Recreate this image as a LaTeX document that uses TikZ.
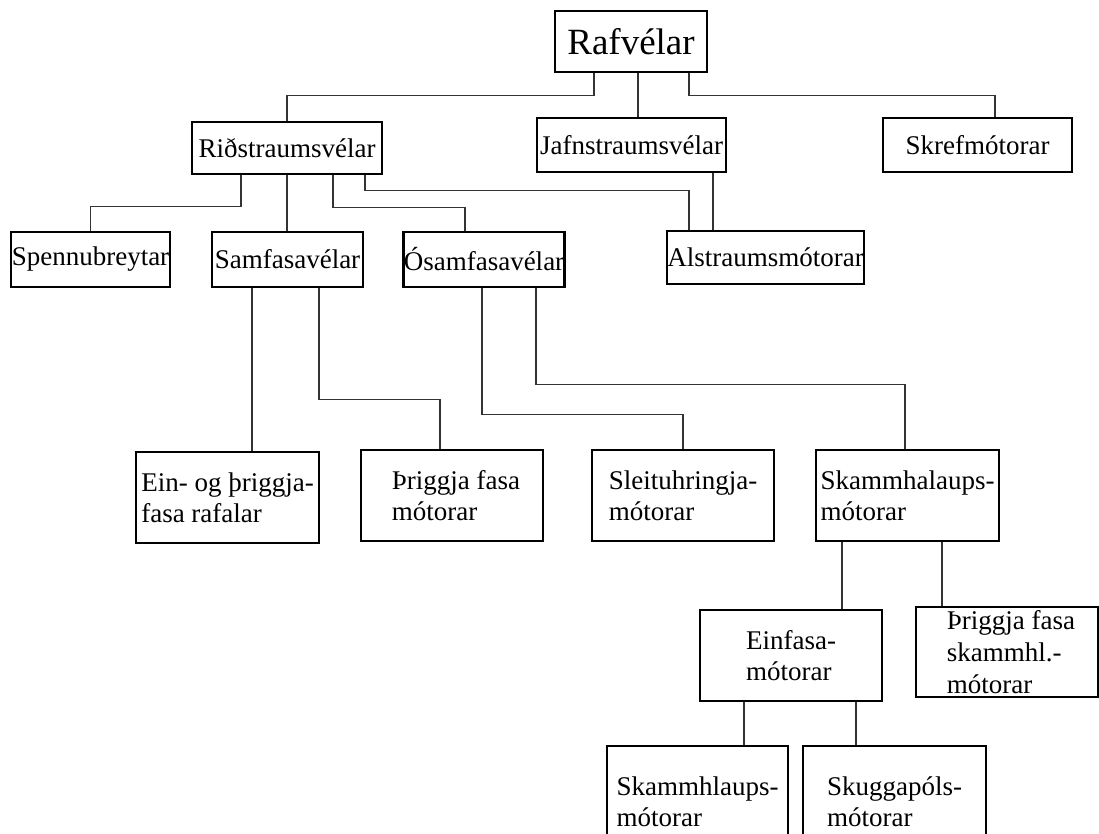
\documentclass[tikz,border=0pt]{standalone}
\usepackage{fontspec}
\setmainfont{Liberation Serif}
\begin{document}
\begin{tikzpicture}[x=1pt,y=-1pt,
  box/.style={draw=black, line width=2.8pt, rectangle, inner xsep=0pt, inner ysep=0pt,
    align=left, font=\fontsize{27}{31}\selectfont},
  link/.style={draw=black!80, line width=1.2pt}]
\useasboundingbox (0,0) rectangle (1099,833);
\fill[white] (0,0) rectangle (1099,833);
\clip (0,0) rectangle (1099,833);
% level 0
\node[box, minimum width=152pt, minimum height=61pt, font=\fontsize{37}{40}\selectfont] (raf) at (631,41.5) {Rafvélar};
% level 1
\node[box, minimum width=190pt, minimum height=52pt] (rid) at (287,148) {Riðstraumsvélar};
\node[box, minimum width=189pt, minimum height=54pt] (jafn) at (631.5,145) {Jafnstraumsvélar};
\node[box, minimum width=189pt, minimum height=54pt] (skref) at (977.5,145) {Skrefmótorar};
% level 2
\node[box, minimum width=159pt, minimum height=55pt] (spen) at (90.5,259.5) {Spennubreytar};
\node[box, minimum width=151pt, minimum height=55pt] (samf) at (287.5,259.5) {Samfasavélar};
\node[box, minimum width=160pt, minimum height=55pt] (osam) at (484,259.5) {Ósamfasavélar};
\node[box, minimum width=197pt, minimum height=53pt] (alst) at (765.5,257.5) {Alstraumsmótorar};
% level 3
\node[box, minimum width=183pt, minimum height=91pt] (ein) at (227.5,497.5) {Ein- og þriggja-\\fasa rafalar};
\node[box, minimum width=182pt, minimum height=91pt] (thr1) at (452,495.5) {\hspace*{8pt}Þriggja fasa\\\hspace*{8pt}mótorar};
\node[box, minimum width=182pt, minimum height=91pt] (sleit) at (683,495.5) {Sleituhringja-\\mótorar};
\node[box, minimum width=183pt, minimum height=91pt] (skam) at (907.5,495.5) {Skammhalaups-\\mótorar};
% level 4
\node[box, minimum width=182pt, minimum height=91pt] (einf) at (791,655.5) {Einfasa-\\mótorar};
\node[box, minimum width=182pt, minimum height=90pt, font=\fontsize{27}{32}\selectfont] (thr2) at (1007,652) {\hspace*{8pt}Þriggja fasa\\\hspace*{8pt}skammhl.-\\\hspace*{8pt}mótorar};
% level 5
\node[box, minimum width=181pt, minimum height=112pt] (skhl) at (697.5,802) {Skammhlaups-\\mótorar};
\node[box, minimum width=183pt, minimum height=112pt] (skug) at (894.5,802) {Skuggapóls-\\mótorar};
% connectors
\draw[link] ([xshift=-37pt]raf.south) -- ++(0,22) -| (rid.north);
\draw[link] ([xshift=7pt]raf.south) -- ([xshift=7pt]raf.south |- jafn.north);
\draw[link] ([xshift=58pt]raf.south) -- ++(0,22) -| ([xshift=17.5pt]skref.north);
\draw[link] ([xshift=-46pt]rid.south) -- ++(0,31) -| (spen.north);
\draw[link] (rid.south) -- (rid.south |- samf.north);
\draw[link] ([xshift=46pt]rid.south) -- ++(0,32) -| ([xshift=-19pt]osam.north);
\draw[link] ([xshift=78pt]rid.south) -- ++(0,15) -| ([xshift=-76.5pt]alst.north);
\draw[link] ([xshift=81.5pt]jafn.south) -- ([xshift=81.5pt]jafn.south |- alst.north);
\draw[link] ([xshift=-35.5pt]samf.south) -- ([xshift=-35.5pt]samf.south |- ein.north);
\draw[link] ([xshift=31.5pt]samf.south) -- ++(0,111) -| ([xshift=-12pt]thr1.north);
\draw[link] ([xshift=-2pt]osam.south) -- ++(0,126) -| (sleit.north);
\draw[link] ([xshift=52pt]osam.south) -- ++(0,96) -| ([xshift=-2.5pt]skam.north);
\draw[link] ([xshift=-65.5pt]skam.south) -- ([xshift=-65.5pt]skam.south |- einf.north);
\draw[link] ([xshift=34.5pt]skam.south) -- ([xshift=34.5pt]skam.south |- thr2.north);
\draw[link] ([xshift=-47pt]einf.south) -- ([xshift=-47pt]einf.south |- skhl.north);
\draw[link] ([xshift=65pt]einf.south) -- ([xshift=65pt]einf.south |- skug.north);
\end{tikzpicture}
\end{document}
